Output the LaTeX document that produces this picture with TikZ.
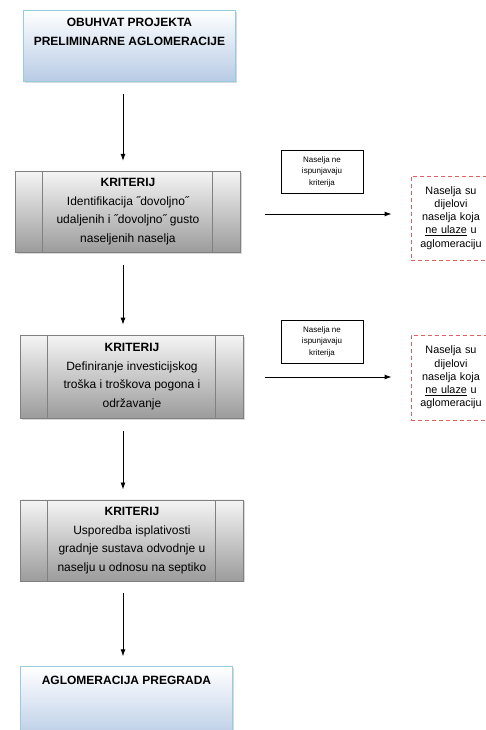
\documentclass[tikz,border=0pt]{standalone}
\usepackage{fontspec}
\setmainfont{Liberation Sans}
\usetikzlibrary{positioning,arrows.meta,shadows}
\definecolor{boxblue}{RGB}{183,203,229}
\definecolor{boxedge}{RGB}{150,205,222}
\definecolor{dashred}{RGB}{224,96,96}
\tikzset{
    scope box/.style={draw=boxedge, line width=0.9pt, top color=white, bottom color=boxblue,
        drop shadow={shadow xshift=1.5pt, shadow yshift=-1.5pt, opacity=0.3},
        minimum width=212pt, minimum height=71pt, inner sep=0pt},
    crit/.style={draw=gray, line width=0.8pt, top color=gray!8, bottom color=gray!78,
        drop shadow={shadow xshift=1.5pt, shadow yshift=-1.5pt, opacity=0.3},
        minimum width=223pt, minimum height=81pt, inner sep=0pt, align=center,
        font=\fontsize{12}{18.5}\selectfont,
        path picture={
            \draw[gray, line width=0.8pt] ([xshift=27pt]path picture bounding box.north west) -- ([xshift=27pt]path picture bounding box.south west);
            \draw[gray, line width=0.8pt] ([xshift=-28pt]path picture bounding box.north east) -- ([xshift=-28pt]path picture bounding box.south east);
        }},
    note/.style={draw=black, line width=0.9pt, minimum width=82pt, minimum height=43pt,
        inner sep=0pt, align=center, font=\fontsize{8}{11.5}\selectfont},
    outside/.style={draw=dashred, dash pattern=on 4pt off 3pt, line width=0.9pt,
        minimum width=80pt, minimum height=84pt, inner sep=0pt, align=center,
        font=\fontsize{10.8}{13.2}\selectfont},
    flow/.style={-{Latex[length=7pt,width=5pt]}, line width=0.9pt, shorten <=12pt, shorten >=10pt}
}

\begin{document}
\begin{tikzpicture}[x=1pt, y=-1pt]
    \useasboundingbox (0,0) rectangle (485,730);
    % main column
    \node[scope box, anchor=north west, label={[anchor=north, yshift=-5pt, align=center, font=\fontsize{12}{19}\selectfont\bfseries]north:OBUHVAT PROJEKTA\\PRELIMINARNE AGLOMERACIJE}] (a) at (23,10) {};
    \node[crit, below=89pt of a, xshift=-1.5pt, minimum width=225pt] (b) {\textbf{KRITERIJ}\\Identifikacija ˝dovoljno˝\\udaljenih i ˝dovoljno˝ gusto\\naseljenih naselja};
    \node[crit, below=82pt of b, xshift=4pt, minimum height=83pt] (c) {\textbf{KRITERIJ}\\Definiranje investicijskog\\troška i troškova pogona i\\održavanje};
    \node[crit, below=81pt of c] (d) {\textbf{KRITERIJ}\\Usporedba isplativosti\\gradnje sustava odvodnje u\\naselju u odnosu na septiko};
    \node[scope box, below=85pt of d, xshift=-5.5pt, minimum height=74pt, label={[anchor=north, yshift=-6pt, font=\fontsize{12}{19}\selectfont\bfseries]north:AGLOMERACIJA PREGRADA}] (e) {};
    % side notes
    \node[note] (f) at (322,171.5) {Naselja ne\\ispunjavaju\\kriterija};
    \node[note] (g) at (322,341.5) {Naselja ne\\ispunjavaju\\kriterija};
    \node[outside, text width=76pt] (h) at (451,218) {Naselja su\\dijelovi\\naselja koja\\\underline{ne ulaze} u\\aglomeraciju};
    \node[outside, text width=76pt, minimum height=85pt] (i) at (451,377.5) {Naselja su\\dijelovi\\naselja koja\\\underline{ne ulaze} u\\aglomeraciju};

    \coordinate (x) at (123,0);
    \coordinate (p) at (0,214);
    \coordinate (q) at (0,377);
    \draw[flow] (a.south -| x) -- (b.north -| x);
    \draw[flow] (b.south -| x) -- (c.north -| x);
    \draw[flow] (c.south -| x) -- (d.north -| x);
    \draw[flow] (d.south -| x) -- (e.north -| x);
    \draw[flow, shorten <=24pt, shorten >=19pt] (b.east |- p) -- (h.west |- p);
    \draw[flow, shorten <=21pt, shorten >=19pt] (c.east |- q) -- (i.west |- q);
\end{tikzpicture}
\end{document}
